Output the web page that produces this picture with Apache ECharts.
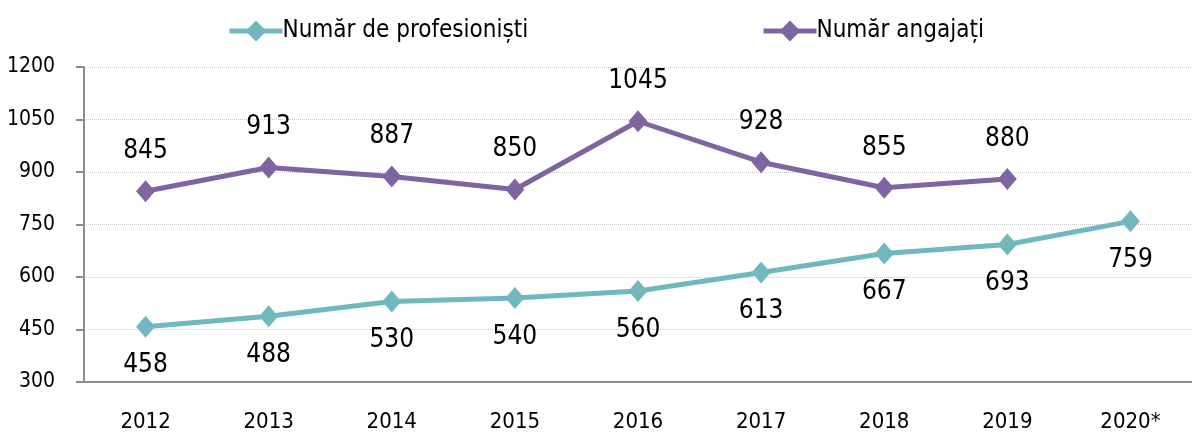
<!DOCTYPE html>
<html><head><meta charset="utf-8">
<script src="https://cdn.jsdelivr.net/npm/echarts@6/dist/echarts.min.js"></script>
<style>html,body{margin:0;padding:0;background:#fff}#c{width:1192px;height:443px}</style>
</head><body><div id="c"></div>
<script>
const categories = ['2012','2013','2014','2015','2016','2017','2018','2019','2020*'];
const profesionisti = [458,488,530,540,560,613,667,693,759];
const angajati = [845,913,887,850,1045,928,855,880,null];
const seriesNames = ['Număr de profesioniști','Număr angajați'];
const FONT = '"DejaVu Sans Condensed","DejaVu Sans",sans-serif';
const FW = 'normal condensed';
const chart = echarts.init(document.getElementById('c'));
const legendCommon = {top:14,itemGap:0,itemWidth:53,itemHeight:26,
    lineStyle:{width:5},
    textStyle:{fontFamily:FONT,fontWeight:FW,fontSize:24,color:'#000',padding:[0,0,0,-5]}};
chart.setOption({
  animation:false,
  textStyle:{fontFamily:FONT,fontWeight:FW},
  legend:[
    Object.assign({left:222,data:[seriesNames[0]]},legendCommon),
    Object.assign({left:756,data:[seriesNames[1]]},legendCommon)
  ],
  grid:{left:84,top:67,width:1117,height:315,containLabel:false},
  xAxis:{type:'category',data:categories,boundaryGap:true,
    axisLine:{lineStyle:{color:'#8c8c8c',width:2}},axisTick:{show:false},
    axisLabel:{fontFamily:FONT,fontWeight:FW,fontSize:22,color:'#000',margin:29}},
  yAxis:{type:'value',min:300,max:1200,interval:150,
    axisLine:{show:true,lineStyle:{color:'#8c8c8c',width:2}},
    axisTick:{show:true,length:8,lineStyle:{color:'#8c8c8c',width:2}},
    splitLine:{lineStyle:{color:'#c8c8c8',type:'dotted',width:1}},
    axisLabel:{fontFamily:FONT,fontWeight:FW,fontSize:21,color:'#000',margin:29,
      formatter:v=>String(v)}},
  series:[
    {name:seriesNames[0],type:'line',data:profesionisti,color:'#70B8BE',
     symbol:'diamond',symbolSize:[19,22],lineStyle:{width:5},
     label:{show:true,position:'bottom',distance:15,fontFamily:FONT,fontWeight:FW,fontSize:26,color:'#000'}},
    {name:seriesNames[1],type:'line',data:angajati,color:'#8064A2',
     symbol:'diamond',symbolSize:[19,22],lineStyle:{width:5},
     label:{show:true,position:'top',distance:16,fontFamily:FONT,fontWeight:FW,fontSize:26,color:'#000'}}
  ]
});
</script></body></html>
